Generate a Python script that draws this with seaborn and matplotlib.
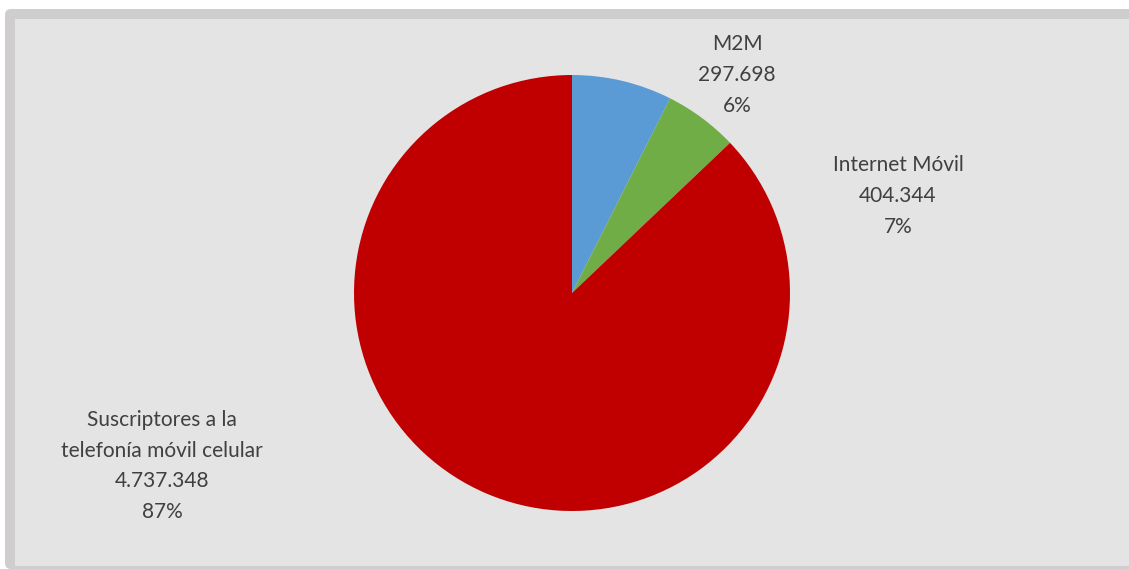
import matplotlib
matplotlib.use("Agg")
import matplotlib.pyplot as plt
import matplotlib.patches as mpatches
import seaborn as sns

# datos de suscriptores por servicio
categorias = ["Internet Móvil", "M2M", "Suscriptores a la\ntelefonía móvil celular"]
valores = [404344, 297698, 4737348]
etiquetas_valor = ["404.344", "297.698", "4.737.348"]
etiquetas_pct = ["7%", "6%", "87%"]
colores = ["#5b9bd5", "#70ad47", "#c00000"]

sns.set_theme(style="white")
plt.rcParams["font.family"] = ["Lato", "DejaVu Sans"]

W, H = 1129, 569
fig = plt.figure(figsize=(W / 100, H / 100), dpi=100)
fig.patch.set_facecolor("white")
ax = fig.add_axes([0, 0, 1, 1])

# marco gris del grafico
ax.add_patch(mpatches.FancyBboxPatch((5, 0), W, H - 9, boxstyle="round,pad=0,rounding_size=6",
                                     facecolor="#cfcdce", edgecolor="none"))
ax.add_patch(mpatches.Rectangle((15, 3), W, H - 22, facecolor="#e4e4e4", edgecolor="none"))

ax.pie(valores, colors=colores, startangle=90, counterclock=False,
       center=(572, H - 293), radius=218, frame=True,
       wedgeprops=dict(linewidth=0))
ax.set_xlim(0, W)
ax.set_ylim(0, H)
ax.axis("off")

# posiciones de las etiquetas (pixeles)
pos = {0: (898, 196), 1: (737, 75), 2: (162, 466)}
for i, cat in enumerate(categorias):
    x, y = pos[i]
    txt = cat + "\n" + etiquetas_valor[i] + "\n" + etiquetas_pct[i]
    ax.text(x, H - y, txt, ha="center", va="center", fontsize=15,
            color="#404040", linespacing=1.68)

fig.savefig("out.png", dpi=100, facecolor=fig.get_facecolor())
